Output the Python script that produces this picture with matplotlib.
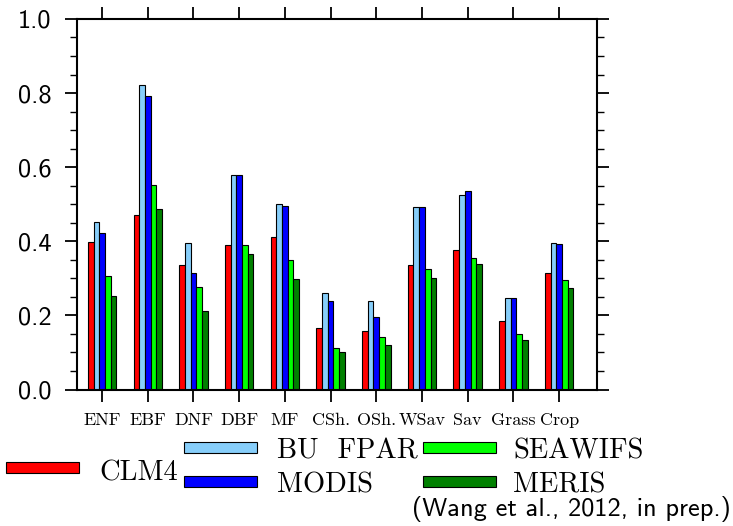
import numpy as np
import matplotlib
matplotlib.use("Agg")
import matplotlib.pyplot as plt
from matplotlib.patches import Rectangle
from matplotlib.ticker import MultipleLocator

# data
biomes = ["ENF", "EBF", "DNF", "DBF", "MF", "CSh.", "OSh.", "WSav", "Sav", "Grass", "Crop"]
clm4 = [0.397, 0.470, 0.337, 0.390, 0.412, 0.165, 0.157, 0.335, 0.377, 0.185, 0.315]
bu_fpar = [0.451, 0.822, 0.394, 0.578, 0.500, 0.260, 0.240, 0.493, 0.525, 0.246, 0.396]
modis = [0.422, 0.792, 0.314, 0.580, 0.496, 0.238, 0.197, 0.493, 0.535, 0.246, 0.392]
seawifs = [0.306, 0.552, 0.276, 0.389, 0.350, 0.111, 0.143, 0.325, 0.356, 0.149, 0.296]
meris = [0.253, 0.488, 0.211, 0.365, 0.298, 0.100, 0.120, 0.302, 0.338, 0.133, 0.275]

series_names = ["CLM4", "BU  FPAR", "MODIS", "SEAWIFS", "MERIS"]
series_values = [clm4, bu_fpar, modis, seawifs, meris]
colors = ["#ff0000", "#87cefa", "#0000ff", "#00ff00", "#008000"]
y_ticks = [0.0, 0.2, 0.4, 0.6, 0.8, 1.0]


def main():
    fig = plt.figure(figsize=(7.33, 5.26), dpi=100)
    ax = fig.add_axes([0.105, 0.2595, 0.7095, 0.7045])

    x = np.arange(1, len(biomes) + 1)
    width = 0.125
    for i, (vals, color) in enumerate(zip(series_values, colors)):
        ax.bar(x + (i - 2) * width, vals, width, color=color,
               edgecolor="black", linewidth=0.8)

    ax.set_xlim(0.45, 11.83)
    ax.set_ylim(0.0, 1.0)
    ax.set_xticks(x)
    ax.set_xticklabels(biomes, family="cmr10", fontsize=13)
    ax.yaxis.set_minor_locator(MultipleLocator(0.05))
    ax.set_yticks(y_ticks)
    ax.set_yticklabels([f"{v:.1f}" for v in y_ticks], family="cmss10", fontsize=19)

    for s in ax.spines.values():
        s.set_linewidth(1.5)
    ax.tick_params(axis="both", which="major", direction="out", length=8.5,
                   width=1.3, top=True, right=True)
    ax.tick_params(axis="y", which="minor", direction="out", length=5,
                   width=1.0, left=True, right=True)
    ax.tick_params(axis="y", which="major", pad=10)
    ax.tick_params(axis="x", which="major", pad=8)

    # legend drawn by hand to get the NCL-style layout
    patch_slots = [(0.008, 0.1008), (0.251, 0.1388), (0.251, 0.0741),
                   (0.577, 0.1388), (0.577, 0.0741)]
    text_slots = [(0.135, 0.0856), (0.378, 0.1274), (0.378, 0.0646),
                  (0.700, 0.1274), (0.700, 0.0646)]
    for name, color, (px, py), (tx, ty) in zip(series_names, colors, patch_slots, text_slots):
        fig.add_artist(Rectangle((px, py), 0.0996, 0.0209, transform=fig.transFigure,
                                 facecolor=color, edgecolor="black", linewidth=0.8))
        fig.text(tx, ty, name, family="cmr10", fontsize=20.5,
                 va="baseline", ha="left")

    fig.text(0.997, 0.019, "(Wang et al., 2012, in prep.)", family="cmss10",
             fontsize=19, ha="right", va="baseline")

    fig.savefig("out.png", dpi=100)


if __name__ == "__main__":
    main()
